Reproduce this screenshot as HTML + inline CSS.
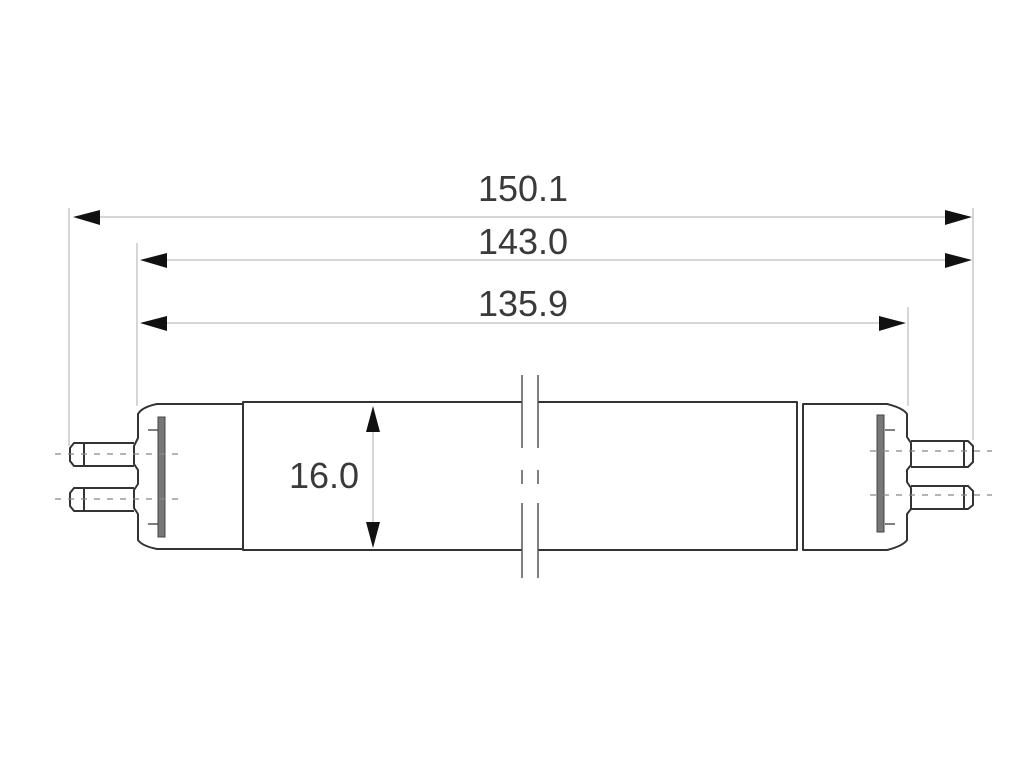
<!DOCTYPE html>
<html><head><style>html,body{margin:0;padding:0;background:#fff;}svg{display:block;}</style></head>
<body>
<svg width="1024" height="768" viewBox="0 0 1024 768" xmlns="http://www.w3.org/2000/svg">
<rect width="1024" height="768" fill="#fff"/>
<g stroke="#c8c8c8" stroke-width="1.5" fill="none">
<line x1="69" y1="208" x2="69" y2="446"/>
<line x1="973" y1="208" x2="973" y2="440"/>
<line x1="137" y1="243" x2="137" y2="406"/>
<line x1="908" y1="307" x2="908" y2="406"/>
<line x1="100" y1="217" x2="945" y2="217"/>
<line x1="165" y1="260" x2="945" y2="260"/>
<line x1="165" y1="323" x2="880" y2="323"/>
<line x1="373" y1="430" x2="373" y2="524"/>
</g>
<g fill="#111">
<polygon points="73,217 100,210 100,225"/>
<polygon points="972,217 945,210 945,225"/>
<polygon points="140,260 167,253 167,268"/>
<polygon points="972,260 945,253 945,268"/>
<polygon points="140,323 167,316 167,331"/>
<polygon points="906,323 879,316 879,331"/>
<polygon points="373,406 366,432 380,432"/>
<polygon points="373,548 366,522 380,522"/>
</g>
<g font-family="Liberation Sans, sans-serif" font-size="36" fill="#3a3a3a" text-anchor="middle">
<text x="523" y="201">150.1</text>
<text x="523" y="254">143.0</text>
<text x="523" y="316">135.9</text>
<text x="324" y="488">16.0</text>
</g>
<g stroke="#333" stroke-width="2" fill="none" stroke-linejoin="round">
<polyline points="522,402 243,402 243,550 522,550"/>
<polyline points="538,402 797,402 797,550 538,550"/>
<path d="M243,404 L157,404 Q142,407 138,414 L138,438 L134,446 L134,464 L138,470 L138,484 L134,490 L134,508 L138,514 L138,540 Q142,546 157,549 L243,549"/>
<path d="M134,443 L74,443 L70,448 L70,461 L74,466 L134,466"/>
<line x1="84" y1="443" x2="84" y2="466"/>
<path d="M134,488 L74,488 L70,493 L70,506 L74,511 L134,511"/>
<line x1="84" y1="488" x2="84" y2="511"/>
<path d="M803,404 L887,404 Q903,408 907,414 L907,437 L911,443 L911,465 L907,470 L907,482 L911,488 L911,509 L907,514 L907,540 Q903,546 887,550 L803,550 Z"/>
<path d="M911,441 L968,441 L973,446 L973,462 L968,467 L911,467"/>
<line x1="964" y1="441" x2="964" y2="467"/>
<path d="M911,486 L968,486 L973,491 L973,505 L968,509 L911,509"/>
<line x1="964" y1="486" x2="964" y2="509"/>
</g>
<g stroke="#555" stroke-width="1.5">
<line x1="522" y1="375" x2="522" y2="448"/>
<line x1="538" y1="375" x2="538" y2="448"/>
<line x1="522" y1="470" x2="522" y2="484"/>
<line x1="538" y1="470" x2="538" y2="484"/>
<line x1="522" y1="503" x2="522" y2="578"/>
<line x1="538" y1="503" x2="538" y2="578"/>
<line x1="148" y1="430" x2="158" y2="430"/>
<line x1="148" y1="524" x2="158" y2="524"/>
<line x1="885" y1="430" x2="895" y2="430"/>
<line x1="885" y1="524" x2="895" y2="524"/>
</g>
<rect x="158" y="417" width="7" height="120" fill="#777" stroke="#444" stroke-width="1"/>
<rect x="877" y="415" width="7" height="117" fill="#777" stroke="#444" stroke-width="1"/>
<g stroke="#888" stroke-width="1.2" stroke-dasharray="6,7">
<line x1="55" y1="454" x2="178" y2="454"/>
<line x1="55" y1="499" x2="178" y2="499"/>
<line x1="870" y1="451" x2="992" y2="451"/>
<line x1="870" y1="495" x2="992" y2="495"/>
</g>
</svg>
</body></html>
